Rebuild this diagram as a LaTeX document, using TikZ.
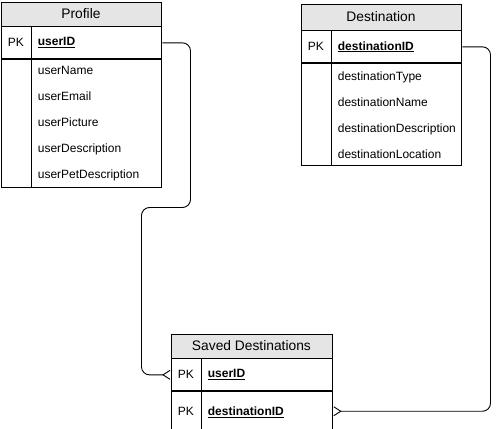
\documentclass[tikz,border=0pt]{standalone}
\usepackage{fontspec}
\setmainfont{Liberation Sans}
\usetikzlibrary{arrows.meta, positioning, calc}

\begin{document}
\begin{tikzpicture} [x = 1pt, y = -1pt, line width = 0.9pt, font = \fontsize{12}{14}\selectfont,
  hdr/.style = {draw, fill = gray!20, anchor = north west, inner sep = 0pt, font = \fontsize{13.8}{16}\selectfont},
  cell/.style = {draw, anchor = north west, inner sep = 0pt, minimum width = 30pt},
  field/.style = {draw, anchor = north west, inner xsep = 6pt, inner ysep = 0pt, align = left},
  conn/.style = {-{Straight Barb[reversed, length = 7pt, width = 9pt]}, rounded corners = 8pt}]

\useasboundingbox (0, 0) rectangle (499, 429);

% Profile
\node [hdr, minimum width = 160pt, minimum height = 24pt] (profile) at (0.5, 1.5) {Profile};
\node [cell, minimum height = 32pt] (profile-pk) at (profile.south west) {PK};
\node [field, text width = 118pt, minimum height = 32pt] (profile-key) at (profile-pk.north east) {\underline{\textbf{userID}}};
\node [cell, minimum height = 128pt] (profile-gap) at (profile-pk.south west) {};
\node [field, text width = 118pt, minimum height = 128pt, font = \fontsize{12}{26}\selectfont] (profile-attr) at (profile-key.south west)
  {userName\\userEmail\\userPicture\\userDescription\\userPetDescription};

% Destination
\node [hdr, minimum width = 160pt, minimum height = 26pt] (dest) at (300.5, 3.5) {Destination};
\node [cell, minimum height = 32pt] (dest-pk) at (dest.south west) {PK};
\node [field, text width = 118pt, minimum height = 32pt] (dest-key) at (dest-pk.north east) {\underline{\textbf{destinationID}}};
\node [cell, minimum height = 102pt] (dest-gap) at (dest-pk.south west) {};
\node [field, text width = 118pt, minimum height = 102pt, font = \fontsize{12}{26}\selectfont] (dest-attr) at (dest-key.south west)
  {destinationType\\destinationName\\destinationDescription\\destinationLocation};

% Saved Destinations
\node [hdr, minimum width = 161pt, minimum height = 24pt] (saved) at (170.5, 333.5) {Saved Destinations};
\node [cell, minimum height = 32pt] (saved-pk1) at (saved.south west) {PK};
\node [field, text width = 119pt, minimum height = 32pt] (saved-key1) at (saved-pk1.north east) {\underline{\textbf{userID}}};
\node [cell, minimum height = 39pt, text depth = -6pt] (saved-pk2) at (saved-pk1.south west) {PK};
\node [field, text width = 119pt, minimum height = 39pt, text depth = -6pt] (saved-key2) at (saved-key1.south west) {\underline{\textbf{destinationID}}};

% links
\coordinate (p-turn) at (190.5, 207.5);
\coordinate (p-drop) at (141.5, 207.5);
\draw [conn] (profile-key.east) -| (p-turn) -- (p-drop) |- (saved-pk1.west);

\coordinate (d-turn) at (490.5, 45);
\draw [conn] (dest-key.east) -| (d-turn |- saved-key2.east) -- (saved-key2.east);

\end{tikzpicture}
\end{document}
